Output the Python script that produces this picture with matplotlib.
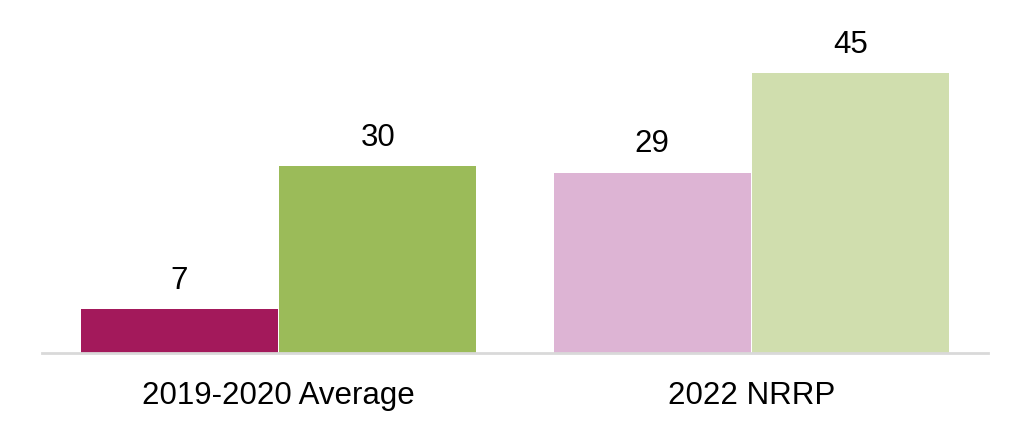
import numpy as np
import matplotlib.pyplot as plt

plt.rcParams['font.family'] = ['Liberation Sans', 'DejaVu Sans']

# data
groups = ["2019-2020 Average", "2022 NRRP"]
left_vals = [7, 29]
right_vals = [30, 45]
left_colors = ['#A3195B', '#DDB4D4']
right_colors = ['#9BBB59', '#D0DEAE']

fig = plt.figure(figsize=(10.31, 4.34), dpi=100)
ax = fig.add_axes([42 / 1031, 81 / 434, 946 / 1031, 342 / 434])

x = np.arange(len(groups))
w = 0.417
off = 0.21

bl = ax.bar(x - off, left_vals, width=w, color=left_colors)
br = ax.bar(x + off, right_vals, width=w, color=right_colors)

for bars, vals in [(bl, left_vals), (br, right_vals)]:
    for b, v in zip(bars, vals):
        ax.annotate(str(v), (b.get_x() + b.get_width() / 2, v),
                    xytext=(0, 9.5), textcoords='offset points',
                    ha='center', va='bottom', fontsize=22.5)

ax.set_xlim(-0.5, 1.5)
ax.set_ylim(0, 55)
ax.set_xticks(x)
ax.set_xticklabels(groups, fontsize=22.5)
ax.tick_params(axis='x', length=0, pad=20)
ax.set_yticks([])
for s in ['top', 'right', 'left']:
    ax.spines[s].set_visible(False)
ax.spines['bottom'].set_color('#D9D9D9')
ax.spines['bottom'].set_linewidth(2)

fig.savefig('out.png', dpi=100)
